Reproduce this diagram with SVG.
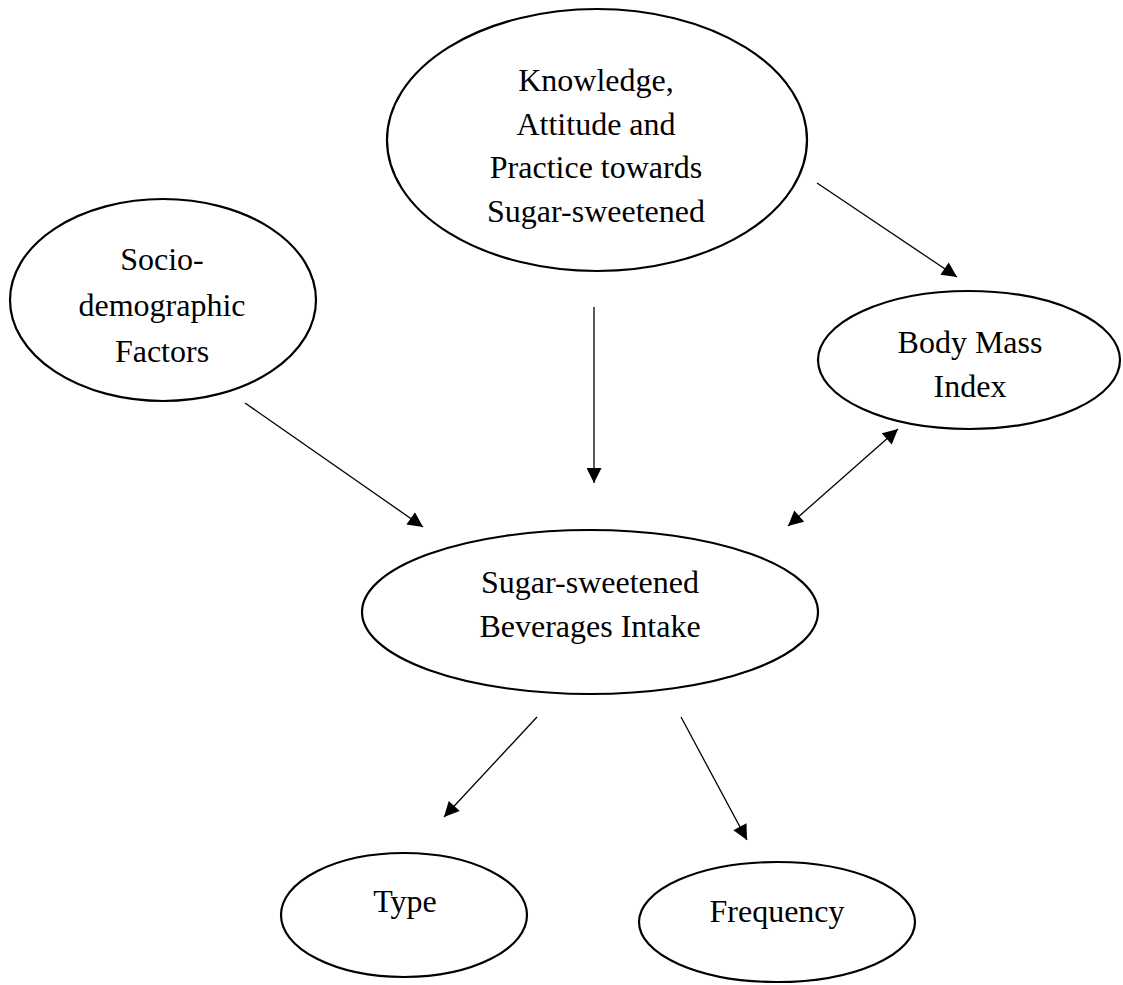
<svg xmlns="http://www.w3.org/2000/svg" width="1123" height="985" viewBox="0 0 1123 985">
<style>
.node ellipse{fill:#fff;stroke:#000;stroke-width:2.2}
.node text{font-family:"Liberation Serif","Times New Roman",serif;font-size:32px;fill:#000;text-anchor:middle}
.edge{stroke:#000;stroke-width:1.3;fill:none}
</style>
<defs>
<marker id="ah" viewBox="0 0 10 10" refX="10" refY="5" markerWidth="17" markerHeight="15" markerUnits="userSpaceOnUse" orient="auto-start-reverse">
<path d="M0,0 L10,5 L0,10 Z" fill="#000"/>
</marker>
</defs>
<rect width="1123" height="985" fill="#fff"/>
<g id="kap" class="node">
<ellipse cx="597" cy="140" rx="210" ry="131"/>
<text x="596" y="91">Knowledge,</text>
<text x="596" y="135">Attitude and</text>
<text x="596" y="178">Practice towards</text>
<text x="596" y="222">Sugar-sweetened</text>
</g>
<g id="socio" class="node">
<ellipse cx="163" cy="300" rx="153" ry="101"/>
<text x="162" y="270">Socio-</text>
<text x="162" y="316">demographic</text>
<text x="162" y="362">Factors</text>
</g>
<g id="bmi" class="node">
<ellipse cx="969" cy="360" rx="151" ry="69"/>
<text x="970" y="353">Body Mass</text>
<text x="970" y="397">Index</text>
</g>
<g id="ssb" class="node">
<ellipse cx="590" cy="612" rx="228" ry="82"/>
<text x="590" y="593">Sugar-sweetened</text>
<text x="590" y="637">Beverages Intake</text>
</g>
<g id="type" class="node">
<ellipse cx="404" cy="915" rx="123" ry="62"/>
<text x="405" y="912">Type</text>
</g>
<g id="freq" class="node">
<ellipse cx="777" cy="922" rx="138" ry="60"/>
<text x="777" y="922">Frequency</text>
</g>
<g id="connectors">
<line class="edge" x1="245" y1="403" x2="423" y2="527" marker-end="url(#ah)"/>
<line class="edge" x1="594" y1="307" x2="594" y2="483" marker-end="url(#ah)"/>
<line class="edge" x1="817" y1="183" x2="957" y2="277" marker-end="url(#ah)"/>
<line class="edge" x1="788" y1="526" x2="898" y2="429" marker-start="url(#ah)" marker-end="url(#ah)"/>
<line class="edge" x1="537" y1="717" x2="444" y2="817" marker-end="url(#ah)"/>
<line class="edge" x1="681" y1="717" x2="747" y2="840" marker-end="url(#ah)"/>
</g>
</svg>
